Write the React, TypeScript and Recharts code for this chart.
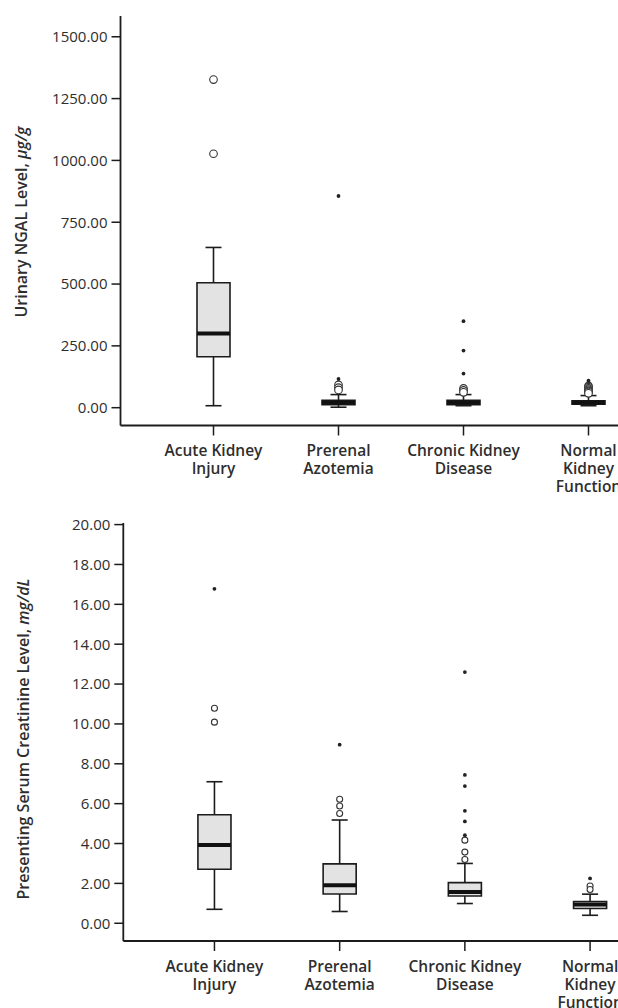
import React from 'react';
import { ScatterChart, Scatter, XAxis, YAxis, ReferenceArea, ReferenceLine } from 'recharts';

// Group labels (one entry per box, split into lines)
const categoryLines = [
  ['Acute Kidney', 'Injury'],
  ['Prerenal', 'Azotemia'],
  ['Chronic Kidney', 'Disease'],
  ['Normal', 'Kidney', 'Function'],
];

// Urinary NGAL, µg/g
const ngalMin = [8, 2, 8, 8];
const ngalQ1 = [206, 12, 12, 14];
const ngalMedian = [300, 21, 21, 21];
const ngalQ3 = [505, 30, 30, 28];
const ngalMax = [648, 53, 53, 49];
const ngalOutliers = [[1327, 1027], [92, 81, 72], [78, 70, 62], [88, 83, 78, 73, 68, 63, 58]];
const ngalExtremes = [[], [856, 116], [350, 231, 138], [109]];
const ngalTicks = [0, 250, 500, 750, 1000, 1250, 1500];

// Presenting serum creatinine, mg/dL
const crMin = [0.7, 0.59, 0.99, 0.4];
const crQ1 = [2.71, 1.47, 1.37, 0.74];
const crMedian = [3.92, 1.91, 1.57, 0.94];
const crQ3 = [5.44, 2.98, 2.04, 1.09];
const crMax = [7.1, 5.18, 3.0, 1.46];
const crOutliers = [[10.79, 10.09], [6.22, 5.88, 5.51], [4.17, 3.57, 3.2], [1.87, 1.69]];
const crExtremes = [[16.78], [8.96], [12.6, 7.44, 6.88, 5.64, 5.11, 4.42], [2.25]];
const crTicks = [0, 2, 4, 6, 8, 10, 12, 14, 16, 18, 20];

const INK = '#1c1c1c';
const TEXT = '#2e2e2e';
const BOX_HALF = 0.132;
const CAP_HALF = 0.064;

const toPoints = (groups: number[][]) =>
  groups.flatMap((vals, i) => vals.map(y => ({ x: i, y })));

const CategoryTick = (props: any) => {
  const { x, y, payload } = props;
  const lines = categoryLines[payload.value] || [];
  return (
    <text textAnchor="middle" fill={TEXT} fontFamily="Open Sans" fontWeight={600} fontSize={15.5}>
      {lines.map((line, i) => (
        <tspan key={i} x={x} y={y + 18.5 + i * 18}>{line}</tspan>
      ))}
    </text>
  );
};

interface BoxChartProps {
  height: number;
  top: number;
  axisWidth: number;
  axisHeight: number;
  xDomain: [number, number];
  yDomain: [number, number];
  yTicks: number[];
  min: number[];
  q1: number[];
  median: number[];
  q3: number[];
  max: number[];
  outliers: number[][];
  extremes: number[][];
  circleR: number;
  labelMain: string;
  labelUnit: string;
  labelX: number;
  labelY: number;
}

const BoxChart = (p: BoxChartProps) => {
  const circles = toPoints(p.outliers);
  const stars = toPoints(p.extremes);
  const idx = p.min.map((_, i) => i);

  return (
    <ScatterChart width={618} height={p.height} margin={{ top: p.top, right: 0, bottom: 0, left: 0 }}>
      <XAxis
        type="number"
        dataKey="x"
        domain={p.xDomain}
        ticks={[0, 1, 2, 3]}
        interval={0}
        allowDataOverflow
        height={p.axisHeight}
        tickSize={10}
        tickMargin={2}
        axisLine={{ stroke: INK, strokeWidth: 1.8 }}
        tickLine={{ stroke: INK, strokeWidth: 1.5 }}
        tick={(t: any) => <CategoryTick {...t} />}
      />
      <YAxis
        type="number"
        dataKey="y"
        domain={p.yDomain}
        ticks={p.yTicks}
        interval={0}
        allowDataOverflow
        width={p.axisWidth}
        tickSize={9}
        tickMargin={4}
        tickFormatter={(v: number) => v.toFixed(2)}
        tick={{ fill: TEXT, fontSize: 15, fontFamily: 'Open Sans' }}
        axisLine={{ stroke: INK, strokeWidth: 1.8 }}
        tickLine={{ stroke: INK, strokeWidth: 1.5 }}
        label={{
          content: () => (
            <text
              x={p.labelX}
              y={p.labelY}
              transform={`rotate(-90 ${p.labelX} ${p.labelY})`}
              textAnchor="middle"
              fill={TEXT}
              fontFamily="Open Sans"
              fontWeight={600}
              fontSize={16}
            >
              {p.labelMain}
              <tspan fontStyle="italic">{p.labelUnit}</tspan>
            </text>
          ),
        }}
      />

      {/* whiskers */}
      {idx.map(i => (
        <ReferenceLine key={`wu${i}`} segment={[{ x: i, y: p.q3[i] }, { x: i, y: p.max[i] }]} stroke={INK} strokeWidth={1.6} />
      ))}
      {idx.map(i => (
        <ReferenceLine key={`wl${i}`} segment={[{ x: i, y: p.q1[i] }, { x: i, y: p.min[i] }]} stroke={INK} strokeWidth={1.6} />
      ))}
      {idx.map(i => (
        <ReferenceLine key={`cu${i}`} segment={[{ x: i - CAP_HALF, y: p.max[i] }, { x: i + CAP_HALF, y: p.max[i] }]} stroke={INK} strokeWidth={1.6} />
      ))}
      {idx.map(i => (
        <ReferenceLine key={`cl${i}`} segment={[{ x: i - CAP_HALF, y: p.min[i] }, { x: i + CAP_HALF, y: p.min[i] }]} stroke={INK} strokeWidth={1.6} />
      ))}

      {/* boxes */}
      {idx.map(i => (
        <ReferenceArea
          key={`b${i}`}
          x1={i - BOX_HALF}
          x2={i + BOX_HALF}
          y1={p.q1[i]}
          y2={p.q3[i]}
          fill="#e3e3e3"
          fillOpacity={1}
          stroke={INK}
          strokeWidth={1.6}
        />
      ))}

      {/* medians */}
      {idx.map(i => (
        <ReferenceLine key={`m${i}`} segment={[{ x: i - BOX_HALF, y: p.median[i] }, { x: i + BOX_HALF, y: p.median[i] }]} stroke="#111" strokeWidth={4} />
      ))}

      <Scatter
        data={circles}
        isAnimationActive={false}
        shape={(s: any) => <circle cx={s.cx} cy={s.cy} r={p.circleR} fill="#fff" stroke="#333" strokeWidth={1.1} />}
      />
      <Scatter
        data={stars}
        isAnimationActive={false}
        shape={(s: any) => <circle cx={s.cx} cy={s.cy} r={1.9} fill="#222" />}
      />
    </ScatterChart>
  );
};

export default function App() {
  return (
    <div style={{ position: 'absolute', left: 0, top: 0, width: 618, height: 1008, overflow: 'hidden', background: '#fff' }}>
      <div style={{ position: 'absolute', left: 0, top: 0 }}>
        <BoxChart
          height={500}
          top={16}
          axisWidth={120.5}
          axisHeight={74.5}
          xDomain={[-0.744, 3.236]}
          yDomain={[-72, 1584]}
          yTicks={ngalTicks}
          min={ngalMin}
          q1={ngalQ1}
          median={ngalMedian}
          q3={ngalQ3}
          max={ngalMax}
          outliers={ngalOutliers}
          extremes={ngalExtremes}
          circleR={3.8}
          labelMain="Urinary NGAL Level, "
          labelUnit="μg/g"
          labelX={27}
          labelY={222}
        />
      </div>
      <div style={{ position: 'absolute', left: 0, top: 500 }}>
        <BoxChart
          height={508}
          top={23}
          axisWidth={123.3}
          axisHeight={67}
          xDomain={[-0.728, 3.223]}
          yDomain={[-0.89, 20.08]}
          yTicks={crTicks}
          min={crMin}
          q1={crQ1}
          median={crMedian}
          q3={crQ3}
          max={crMax}
          outliers={crOutliers}
          extremes={crExtremes}
          circleR={3}
          labelMain="Presenting Serum Creatinine Level, "
          labelUnit="mg/dL"
          labelX={29}
          labelY={239}
        />
      </div>
    </div>
  );
}
